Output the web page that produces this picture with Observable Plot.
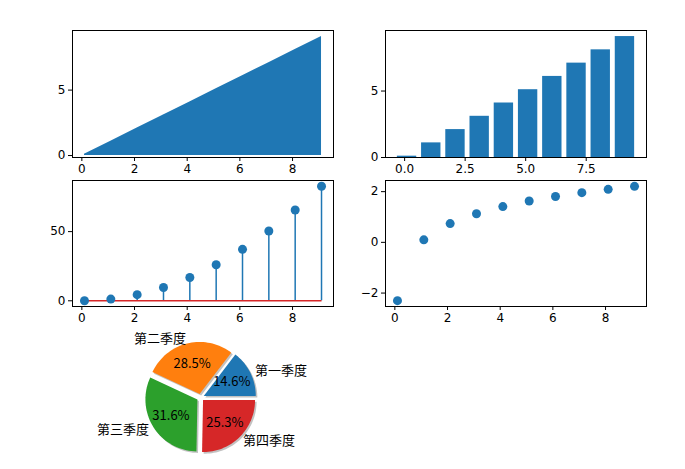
<!DOCTYPE html>
<div id="fig"></div>
<script src="https://cdn.jsdelivr.net/npm/d3@7"></script>
<script src="https://cdn.jsdelivr.net/npm/@observablehq/plot@0.6"></script>
<script>
const xs = [0.1, 1.1, 2.1, 3.1, 4.1, 5.1, 6.1, 7.1, 8.1, 9.1];
const squares = [0.01, 1.21, 4.41, 9.61, 16.81, 26.01, 37.21, 50.41, 65.61, 82.81];
const logs = [-2.30, 0.10, 0.74, 1.13, 1.41, 1.63, 1.81, 1.96, 2.09, 2.21];
const quarters = ['第一季度', '第二季度', '第三季度', '第四季度'];
const shares = [14.6, 28.5, 31.6, 25.3];
const pieColors = ['#1f77b4', '#ff7f0e', '#2ca02c', '#d62728'];

const blue = '#1f77b4';
const fig = document.querySelector('#fig');
const font = 'DejaVu Sans, sans-serif';

function place(plot, left, top) {
	plot.style.position = 'absolute';
	plot.style.left = left + 'px';
	plot.style.top = top + 'px';
	fig.append(plot);
}

// panel box: 261x127, margins L40 R10 T10 B25
const m = { width: 311, height: 162, marginLeft: 40, marginRight: 10, marginTop: 10, marginBottom: 25,
	style: { fontSize: '12px', fontFamily: font, color: 'black', background: 'transparent', overflow: 'visible' } };
const ax = { tickSize: 4, tickPadding: 3, label: null };

const line = xs.map((x, i) => ({ x, y: xs[i] }));
place(Plot.plot({ ...m,
	x: { ...ax, domain: [-0.355, 9.555], ticks: [0, 2, 4, 6, 8] },
	y: { ...ax, domain: [-0.15, 9.555], ticks: [0, 5] },
	marks: [Plot.areaY(line, { x: 'x', y: 'y', fill: blue }), Plot.frame({ stroke: 'black' })]
}), 32, 20);

place(Plot.plot({ ...m,
	x: { ...ax, domain: [-0.79, 9.99], ticks: [0, 2.5, 5, 7.5], tickFormat: d3.format('.1f') },
	y: { ...ax, domain: [0, 9.555], ticks: [0, 5] },
	marks: [Plot.rectY(line, { x1: d => d.x - 0.4, x2: d => d.x + 0.4, y: 'y', fill: blue }), Plot.frame({ stroke: 'black' })]
}), 345, 20);

const stem = xs.map((x, i) => ({ x, y: squares[i] }));
place(Plot.plot({ ...m, height: 161,
	x: { ...ax, domain: [-0.355, 9.555], ticks: [0, 2, 4, 6, 8] },
	y: { ...ax, domain: [-4.13, 86.95], ticks: [0, 50] },
	marks: [
		Plot.ruleX(stem, { x: 'x', y1: 0, y2: 'y', stroke: blue, strokeWidth: 1.5 }),
		Plot.link([0], { x1: xs[0], x2: xs[xs.length - 1], y1: 0, y2: 0, stroke: '#d62728', strokeWidth: 1.5 }),
		Plot.dot(stem, { x: 'x', y: 'y', r: 4.5, fill: blue }),
		Plot.frame({ stroke: 'black' })
	]
}), 32, 170);

const sc = xs.map((x, i) => ({ x, y: logs[i] }));
place(Plot.plot({ ...m, height: 161,
	x: { ...ax, domain: [-0.355, 9.555], ticks: [0, 2, 4, 6, 8] },
	y: { ...ax, domain: [-2.53, 2.44], ticks: [-2, 0, 2], tickFormat: d3.format('d') },
	marks: [Plot.dot(sc, { x: 'x', y: 'y', r: 4.5, fill: blue }), Plot.frame({ stroke: 'black' })]
}), 345, 170);

// pie: center at (200,397), radius 52px
const R = 52, pw = 300, ph = 150, cx = 130, cy = 75, ex = 0.07;
const total = d3.sum(shares);
let start = 0;
const slices = [], shadows = [], labels = [], pcts = [];
shares.forEach((s, i) => {
	const a0 = start, a1 = start + s / total * 2 * Math.PI;
	start = a1;
	const mid = (a0 + a1) / 2;
	const ox = ex * Math.cos(mid), oy = ex * Math.sin(mid);
	const pts = [[ox, oy]];
	for (let k = 0; k <= 40; k++) {
		const a = a0 + (a1 - a0) * k / 40;
		pts.push([ox + Math.cos(a), oy + Math.sin(a)]);
	}
	pts.push([ox, oy]);
	pts.forEach(([x, y]) => {
		slices.push({ x, y, i });
		shadows.push({ x: x + 0.03, y: y - 0.03, i });
	});
	const c = Math.cos(mid), sn = Math.sin(mid);
	labels.push({ x: 1.1 * c + ox, y: 1.1 * sn + oy, t: quarters[i], anchor: c >= 0 ? 'start' : 'end' });
	pcts.push({ x: 0.6 * c + ox, y: 0.6 * sn + oy, t: s.toFixed(1) + '%' });
});
place(Plot.plot({
	width: pw, height: ph, margin: 0,
	style: { fontSize: '12px', fontFamily: 'Noto Sans CJK SC, sans-serif', background: 'transparent', overflow: 'visible' },
	x: { domain: [-cx / R, (pw - cx) / R], axis: null },
	y: { domain: [-(ph - cy) / R, cy / R], axis: null },
	marks: [
		Plot.line(shadows, { x: 'x', y: 'y', z: 'i', fill: '#999', fillOpacity: 0.6, stroke: 'none', curve: 'linear' }),
		Plot.line(slices, { x: 'x', y: 'y', z: 'i', fill: d => pieColors[d.i], stroke: 'none', curve: 'linear' }),
		Plot.text(labels.filter(d => d.anchor == 'start'), { x: 'x', y: 'y', text: 't', textAnchor: 'start', fill: 'black', fontSize: 13 }),
		Plot.text(labels.filter(d => d.anchor == 'end'), { x: 'x', y: 'y', text: 't', textAnchor: 'end', fill: 'black', fontSize: 13 }),
		Plot.text(pcts, { x: 'x', y: 'y', text: 't', fill: 'black', fontSize: 13 })
	]
}), 200 - cx, 397 - cy);
</script>
<style>
html, body { margin: 0; background: white; }
#fig { position: relative; width: 685px; height: 469px; }
</style>
